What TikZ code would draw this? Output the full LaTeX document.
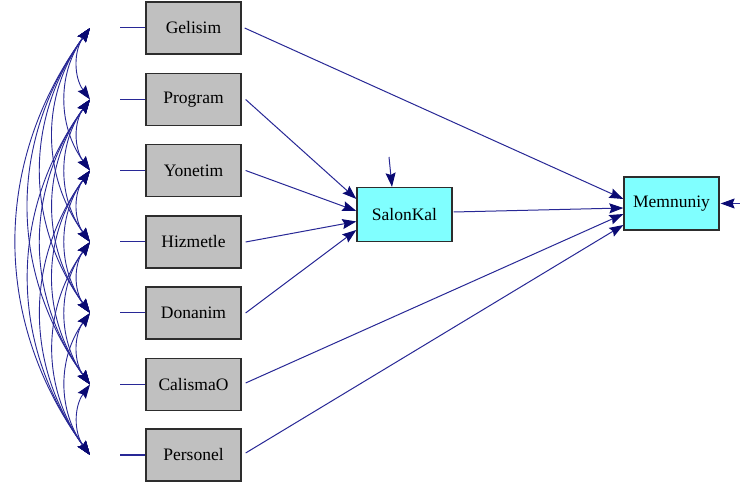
\documentclass[tikz,border=0pt]{standalone}
\usepackage{fontspec}
\setmainfont{Liberation Serif}
\usetikzlibrary{arrows.meta,calc}
\definecolor{pathblue}{RGB}{40,40,150}
\definecolor{tipblue}{RGB}{10,10,115}
\definecolor{obsgray}{RGB}{192,192,192}
\definecolor{latcyan}{RGB}{128,255,255}
\definecolor{edgegray}{RGB}{45,45,45}
\tikzset{
  obsbox/.style={draw=edgegray, line width=1.3pt, fill=obsgray, minimum width=95pt,
    minimum height=52pt, inner sep=0pt, font=\fontsize{17.5}{20}\selectfont},
  endobox/.style={obsbox, fill=latcyan},
  regpath/.style={draw=pathblue, line width=1pt,
    -{Stealth[length=14pt,width=10pt,inset=2pt,color=tipblue]}},
  corr/.style={draw=pathblue, line width=0.9pt,
    {Stealth[length=14pt,width=10pt,inset=2pt,color=tipblue]}-{Stealth[length=14pt,width=10pt,inset=2pt,color=tipblue]},
    bend right=36},
  stub/.style={draw=pathblue, line width=1pt}
}
\begin{document}
\begin{tikzpicture}[x=1pt,y=-1pt]
\useasboundingbox[fill=white] (0,0) rectangle (740,489);

% exogenous observed variables
\node[obsbox] (b1) at (193.5,28)  {Gelisim};
\node[obsbox] (b2) at (193.5,99.5) {Program};
\node[obsbox] (b3) at (193.5,170.5) {Yonetim};
\node[obsbox] (b4) at (193.5,242) {Hizmetle};
\node[obsbox] (b5) at (193.5,313) {Donanim};
\node[obsbox] (b6) at (193.5,384.5) {CalismaO};
\node[obsbox] (b7) at (193.5,455) {Personel};

% endogenous variables
\node[endobox, minimum height=54pt] (sk) at (404.5,214.5) {SalonKal};
\node[endobox, minimum height=53pt] (mem) at (671.5,203.5) {Memnuniy};

% stubs and covariance anchor points
\foreach \i/\y in {1/28,2/99.5,3/170.5,4/242,5/313,6/384.5,7/455}{
  \coordinate (s\i) at (120,\y);
  \coordinate (c\i) at (90,\y);
  \draw[stub] (s\i) -- (b\i.west);
}

% covariances between all exogenous variables
\foreach \i in {1,...,6}{
  \pgfmathtruncatemacro{\nxt}{\i+1}
  \foreach \j in {\nxt,...,7}{
    \draw[corr] (c\i) to (c\j);
  }
}

% regression paths into SalonKal
\draw[regpath] ([xshift=4pt]b2.east) -- ([yshift=15.5pt]sk.west);
\draw[regpath] ([xshift=4pt]b3.east) -- ([yshift=3.5pt]sk.west);
\draw[regpath] ([xshift=4pt]b4.east) -- ([yshift=-7pt]sk.west);
\draw[regpath] ([xshift=4pt]b5.east) -- ([yshift=-15.5pt]sk.west);

% regression paths into Memnuniy
\draw[regpath] ([xshift=3pt]b1.east) -- ([yshift=4.5pt]mem.west);
\draw[regpath] ([xshift=1pt,yshift=2.5pt]sk.east) -- ([yshift=-4.5pt]mem.west);
\draw[regpath] ([xshift=4pt,yshift=1.5pt]b6.east) -- ([yshift=-10.5pt]mem.west);
\draw[regpath] ([xshift=4pt,yshift=2pt]b7.east) -- ([yshift=-21.5pt]mem.west);

% disturbance terms
\coordinate (esk) at (389,157);
\coordinate (emem) at (740,203.5);
\draw[regpath] (esk) -- ([xshift=-12.5pt]sk.north);
\draw[regpath] (emem) -- ([xshift=1pt]mem.east);
\end{tikzpicture}
\end{document}
